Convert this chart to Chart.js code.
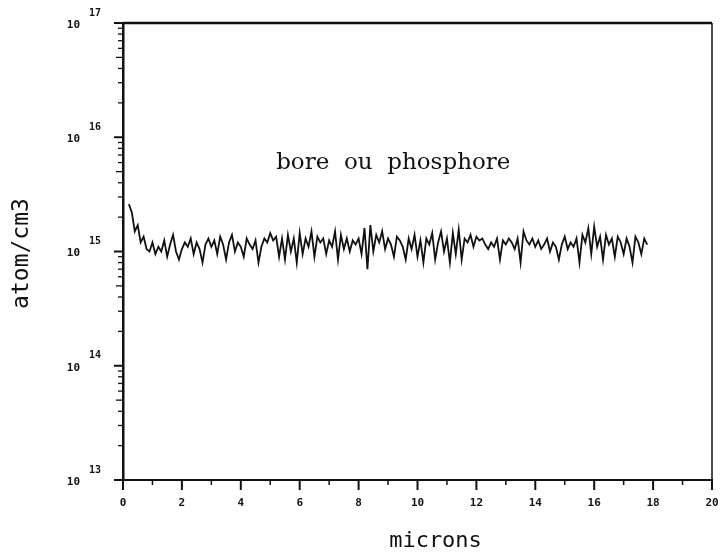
<!DOCTYPE html>
<html><head><meta charset="utf-8">
<script src="https://cdn.jsdelivr.net/npm/chart.js@4.4.1/dist/chart.umd.min.js"></script>
<style>html,body{margin:0;padding:0;background:#fff;}#wrap{width:728px;height:557px;}</style>
</head><body><div id="wrap"><canvas id="c" width="728" height="557"></canvas></div>
<script>
const microns = [0.2,0.3,0.4,0.5,0.6,0.7,0.8,0.9,1.0,1.1,1.2,1.3,1.4,1.5,1.6,1.7,1.8,1.9,
2.0,2.1,2.2,2.3,2.4,2.5,2.6,2.7,2.8,2.9,3.0,3.1,3.2,3.3,3.4,3.5,3.6,3.7,3.8,3.9,
4.0,4.1,4.2,4.3,4.4,4.5,4.6,4.7,4.8,4.9,5.0,5.1,5.2,5.3,5.4,5.5,5.6,5.7,5.8,5.9,
6.0,6.1,6.2,6.3,6.4,6.5,6.6,6.7,6.8,6.9,7.0,7.1,7.2,7.3,7.4,7.5,7.6,7.7,7.8,7.9,
8.0,8.1,8.2,8.3,8.4,8.5,8.6,8.7,8.8,8.9,9.0,9.1,9.2,9.3,9.4,9.5,9.6,9.7,9.8,9.9,
10.0,10.1,10.2,10.3,10.4,10.5,10.6,10.7,10.8,10.9,11.0,11.1,11.2,11.3,11.4,11.5,11.6,11.7,11.8,11.9,
12.0,12.1,12.2,12.3,12.4,12.5,12.6,12.7,12.8,12.9,13.0,13.1,13.2,13.3,13.4,13.5,13.6,13.7,13.8,13.9,
14.0,14.1,14.2,14.3,14.4,14.5,14.6,14.7,14.8,14.9,15.0,15.1,15.2,15.3,15.4,15.5,15.6,15.7,15.8,15.9,
16.0,16.1,16.2,16.3,16.4,16.5,16.6,16.7,16.8,16.9,17.0,17.1,17.2,17.3,17.4,17.5,17.6,17.7,17.8];
const concentration = [2.6e15,2.2e15,1.5e15,1.7e15,1.2e15,1.35e15,1.05e15,1.0e15,1.2e15,0.95e15,1.1e15,1.0e15,1.25e15,0.9e15,1.15e15,1.4e15,1.0e15,0.85e15,
1.05e15,1.2e15,1.1e15,1.3e15,0.95e15,1.2e15,1.05e15,0.8e15,1.15e15,1.3e15,1.1e15,1.25e15,0.95e15,1.35e15,1.15e15,0.85e15,1.2e15,1.4e15,1.0e15,1.2e15,
1.1e15,0.9e15,1.3e15,1.15e15,1.05e15,1.25e15,0.8e15,1.1e15,1.3e15,1.2e15,1.45e15,1.25e15,1.35e15,0.9e15,1.3e15,0.85e15,1.4e15,1.0e15,1.3e15,0.8e15,
1.45e15,0.95e15,1.3e15,1.1e15,1.5e15,0.9e15,1.35e15,1.2e15,1.3e15,0.95e15,1.25e15,1.1e15,1.5e15,0.85e15,1.4e15,1.05e15,1.3e15,1.0e15,1.25e15,1.15e15,
1.3e15,0.95e15,1.6e15,0.7e15,1.7e15,1.0e15,1.4e15,1.2e15,1.5e15,1.05e15,1.3e15,1.15e15,0.9e15,1.35e15,1.25e15,1.1e15,0.85e15,1.3e15,1.05e15,1.4e15,
0.9e15,1.25e15,0.8e15,1.3e15,1.15e15,1.45e15,0.85e15,1.2e15,1.5e15,1.0e15,1.3e15,0.8e15,1.45e15,0.95e15,1.55e15,0.85e15,1.3e15,1.2e15,1.4e15,1.1e15,
1.35e15,1.25e15,1.3e15,1.15e15,1.05e15,1.2e15,1.1e15,1.3e15,0.85e15,1.25e15,1.15e15,1.3e15,1.2e15,1.05e15,1.3e15,0.8e15,1.5e15,1.25e15,1.15e15,1.3e15,
1.1e15,1.25e15,1.05e15,1.15e15,1.3e15,1.0e15,1.2e15,1.1e15,0.85e15,1.15e15,1.35e15,1.05e15,1.2e15,1.1e15,1.3e15,0.8e15,1.4e15,1.2e15,1.6e15,0.95e15,
1.65e15,1.1e15,1.35e15,0.85e15,1.4e15,1.15e15,1.3e15,0.9e15,1.35e15,1.2e15,0.95e15,1.3e15,1.1e15,0.8e15,1.35e15,1.2e15,0.95e15,1.3e15,1.15e15];
const xMajorTicks = [0,2,4,6,8,10,12,14,16,18,20];
const xMinorTicks = [1,3,5,7,9,11,13,15,17,19];
const yDecades = [1e13,1e14,1e15,1e16,1e17];
const yExponents = ["13","14","15","16","17"];
const xTitle = "microns";
const yTitle = "atom/cm3";
const annotation = "bore  ou  phosphore";

const tickFont = 'bold 11px "DejaVu Sans Mono"';
const framePlugin = {
  id: 'frame',
  afterDraw(chart) {
    const {ctx, chartArea: a, scales: {x, y}} = chart;
    ctx.save();
    ctx.strokeStyle = '#111';
    ctx.lineWidth = 2.5;
    ctx.beginPath(); ctx.moveTo(a.left, a.top); ctx.lineTo(a.right, a.top); ctx.stroke();
    ctx.lineWidth = 1.5;
    ctx.beginPath(); ctx.moveTo(a.right, a.top); ctx.lineTo(a.right, a.bottom); ctx.stroke();
    ctx.lineWidth = 2;
    xMajorTicks.forEach(v => { const px = x.getPixelForValue(v); ctx.beginPath(); ctx.moveTo(px, a.bottom); ctx.lineTo(px, a.bottom + 10); ctx.stroke(); });
    ctx.lineWidth = 1.5;
    xMinorTicks.forEach(v => { const px = x.getPixelForValue(v); ctx.beginPath(); ctx.moveTo(px, a.bottom); ctx.lineTo(px, a.bottom + 5); ctx.stroke(); });
    yDecades.forEach((d, i) => {
      const py = y.getPixelForValue(d);
      ctx.lineWidth = 2;
      ctx.beginPath(); ctx.moveTo(a.left - 9, py); ctx.lineTo(a.left, py); ctx.stroke();
      if (i < yDecades.length - 1) {
        ctx.lineWidth = 1.3;
        for (let m = 2; m <= 9; m++) {
          const pm = y.getPixelForValue(d * m);
          ctx.beginPath(); ctx.moveTo(a.left - (m === 5 ? 7 : 5), pm); ctx.lineTo(a.left, pm); ctx.stroke();
        }
      }
    });
    ctx.fillStyle = '#111';
    ctx.font = tickFont;
    ctx.textAlign = 'center'; ctx.textBaseline = 'top';
    xMajorTicks.forEach(v => ctx.fillText(String(v), x.getPixelForValue(v), a.bottom + 18));
    yDecades.forEach((d, i) => {
      const py = y.getPixelForValue(d);
      ctx.textAlign = 'right'; ctx.textBaseline = 'middle';
      ctx.font = tickFont;
      ctx.fillText('10', a.left - 43, py + 2);
      ctx.textAlign = 'left';
      ctx.font = 'bold 10px "DejaVu Sans Mono"';
      ctx.fillText(yExponents[i], a.left - 34, py - 10);
    });
    ctx.font = '22px "DejaVu Sans Mono"';
    ctx.textAlign = 'center'; ctx.textBaseline = 'middle';
    ctx.fillText(xTitle, (a.left + a.right) / 2 + 18, a.bottom + 61);
    ctx.save();
    ctx.translate(22, (a.top + a.bottom) / 2 + 2);
    ctx.rotate(-Math.PI / 2);
    ctx.font = '23px "DejaVu Sans Mono"';
    ctx.fillText(yTitle, 0, 0);
    ctx.restore();
    ctx.font = '23px "DejaVu Serif"';
    ctx.textAlign = 'left'; ctx.textBaseline = 'middle';
    ctx.fillText(annotation, x.getPixelForValue(5.2), y.getPixelForValue(5.9e15));
    ctx.restore();
  }
};

new Chart(document.getElementById('c'), {
  type: 'line',
  data: {
    labels: microns,
    datasets: [{
      data: microns.map((m, i) => ({x: m, y: concentration[i]})),
      borderColor: '#111', borderWidth: 1.8, pointRadius: 0, tension: 0, fill: false
    }]
  },
  options: {
    responsive: false, animation: false,
    layout: {padding: {left: 123, right: 16, top: 23, bottom: 77}},
    plugins: {legend: {display: false}, tooltip: {enabled: false}},
    scales: {
      x: {type: 'linear', min: 0, max: 20,
        ticks: {display: false}, grid: {display: false, drawTicks: false},
        border: {display: true, color: '#111', width: 2},
        afterFit(s) { s.height = 0; }},
      y: {type: 'logarithmic', min: 1e13, max: 1e17,
        ticks: {display: false}, grid: {display: false, drawTicks: false},
        border: {display: true, color: '#111', width: 2.5},
        afterFit(s) { s.width = 0; }}
    }
  },
  plugins: [framePlugin]
});
</script></body></html>
